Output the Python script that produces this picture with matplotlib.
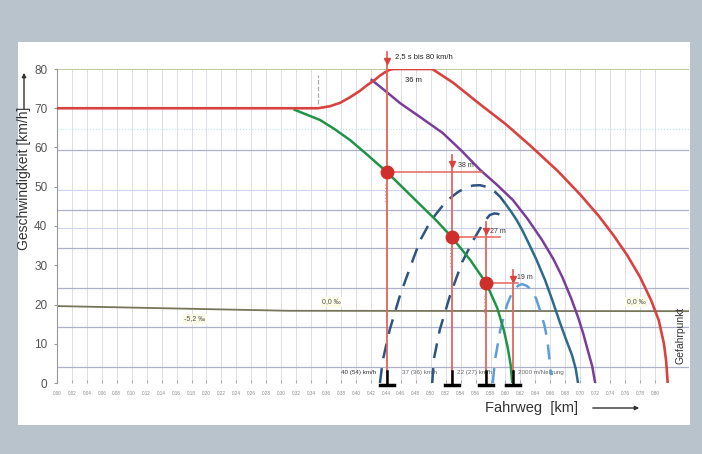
import numpy as np
import matplotlib
matplotlib.use('Agg')
import matplotlib.pyplot as plt
from matplotlib.patches import Rectangle, FancyArrowPatch

plt.rcParams['font.family'] = 'sans-serif'
plt.rcParams['font.sans-serif'] = ['Liberation Sans', 'DejaVu Sans']

# Fahrweg [km] / Geschwindigkeit [km/h]
red_s = [0.000, 0.349, 0.365, 0.379, 0.392, 0.405, 0.415, 0.425, 0.432, 0.439, 0.445, 0.450,
         0.502, 0.530, 0.566, 0.600, 0.633, 0.670, 0.700, 0.725, 0.745, 0.763, 0.780, 0.795,
         0.805, 0.812, 0.815, 0.817]
red_v = [70.0, 70.0, 70.5, 71.4, 72.8, 74.4, 75.9, 77.2, 78.3, 79.2, 79.8, 80.0,
         80.0, 76.5, 71.0, 66.0, 60.5, 54.0, 48.0, 42.5, 37.5, 32.5, 27.0, 21.0,
         16.0, 10.0, 5.5, 0.0]

purple_s = [0.421, 0.440, 0.459, 0.487, 0.516, 0.541, 0.566, 0.588, 0.610, 0.630, 0.649,
            0.664, 0.676, 0.688, 0.697, 0.704, 0.710, 0.716, 0.720]
purple_v = [77.2, 74.3, 71.3, 67.6, 63.7, 59.2, 54.3, 50.6, 46.6, 41.7, 36.4,
            31.6, 27.0, 21.5, 16.8, 12.6, 8.4, 4.3, 0.0]

blue_s = [0.599, 0.607, 0.615, 0.622, 0.629, 0.641, 0.653, 0.663, 0.673, 0.681, 0.689, 0.694, 0.697]
blue_v = [45.9, 43.8, 41.5, 39.1, 36.4, 31.6, 26.2, 20.9, 15.3, 11.1, 7.1, 3.6, 0.0]

green_s = [0.318, 0.335, 0.352, 0.372, 0.392, 0.416, 0.441, 0.463, 0.486, 0.507, 0.528,
           0.553, 0.574, 0.589, 0.598, 0.603, 0.607, 0.609]
green_v = [69.6, 68.3, 67.0, 64.6, 61.9, 58.0, 53.8, 49.7, 45.4, 41.5, 37.2,
           31.3, 25.5, 19.1, 13.3, 9.0, 4.5, 0.0]

arch1_s = [0.432, 0.436, 0.445, 0.459, 0.475, 0.486, 0.496, 0.506, 0.516, 0.526, 0.536,
           0.546, 0.556, 0.566, 0.576, 0.586, 0.593, 0.599]
arch1_v = [0.0, 5.9, 13.5, 22.4, 30.8, 36.4, 39.9, 42.8, 45.2, 47.1, 48.6,
           49.7, 50.3, 50.4, 49.9, 48.7, 47.4, 45.9]
arch2_s = [0.502, 0.504, 0.512, 0.526, 0.542, 0.557, 0.569, 0.575, 0.579, 0.585, 0.590, 0.595, 0.599]
arch2_v = [0.0, 5.9, 13.5, 22.4, 30.8, 36.4, 40.3, 41.9, 42.8, 43.2, 43.1, 42.3, 41.0]
arch3_s = [0.583, 0.586, 0.593, 0.602, 0.607, 0.611, 0.617, 0.622, 0.628, 0.635, 0.641,
           0.646, 0.652, 0.656, 0.661]
arch3_v = [0.0, 5.9, 13.5, 19.9, 22.2, 23.7, 24.8, 25.2, 24.8, 23.7, 21.5,
           18.6, 14.8, 11.0, 2.0]

# Punkte und Wege
dot_s = [0.4415, 0.5284, 0.5739]
dot_v = [53.8, 37.2, 25.5]
mark_s = [0.4415, 0.5284, 0.5739, 0.6100]
mark_top = [84.3, 58.1, 41.0, 28.8]
hline_end = [0.568, 0.593, 0.617]
dist_labels = ['38 m', '27 m', '19 m']

# Neigung
grad_s = [0.0, 0.31, 0.8455]
grad_v = [19.6, 18.4, 18.3]

speed_lines = [59.4, 44.1, 34.4, 24.2, 14.3, 4.1]
speed_lines_light = [49.2, 39.5]

x_ticks = [round(0.02 * i, 2) for i in range(41)]
y_ticks = [0, 10, 20, 30, 40, 50, 60, 70, 80]

red = '#d8433f'
red_soft = '#e2665e'
fig = plt.figure(figsize=(7.02, 4.54), dpi=100, facecolor='#b9c3cc')
fig.patches.append(Rectangle((18/702, 1-425/454), 672/702, 383/454,
                             transform=fig.transFigure, facecolor='white',
                             edgecolor='none', zorder=-5))
ax = fig.add_axes([57/702, 71/454, 632/702, 314/454])
ax.set_zorder(2)
ax.patch.set_alpha(0)
ax.set_xlim(0, 0.8455)
ax.set_ylim(0, 80)

for x in x_ticks:
    ax.axvline(x, color='#d8d8e0', lw=0.6, zorder=1)
for y in speed_lines:
    ax.axhline(y, color='#afb1ca', lw=0.9, zorder=1)
for y in speed_lines_light:
    ax.axhline(y, color='#ccd6ec', lw=0.8, zorder=1)
ax.axhline(64.7, color='#bfe3e8', lw=0.8, ls=':', zorder=1)
ax.axhline(80, color='#b7c59c', lw=1.3, zorder=2)

ax.plot(grad_s, grad_v, color='#76765a', lw=1.3, zorder=2)
tb = dict(boxstyle='square,pad=0.2', facecolor='#fbfbe6', edgecolor='none')
ax.text(0.355, 20.3, '0,0 ‰', fontsize=5, color='#555', bbox=tb, zorder=3)
ax.text(0.17, 16.0, '-5,2 ‰', fontsize=5, color='#555', bbox=tb, zorder=3)
ax.text(0.762, 20.3, '0,0 ‰', fontsize=5, color='#555', bbox=tb, zorder=3)

# Bremskurven
ax.plot(arch1_s, arch1_v, color='#2d557f', lw=1.8, dashes=(6, 4), zorder=4)
ax.plot(arch2_s, arch2_v, color='#2d557f', lw=1.8, dashes=(6, 4), zorder=4)
ax.plot(arch3_s, arch3_v, color='#5c9fd6', lw=1.8, dashes=(6, 4), zorder=4)
ax.plot(blue_s, blue_v, color='#2c6b8c', lw=1.8, zorder=4)
ax.plot(purple_s, purple_v, color='#7a3d99', lw=1.8, zorder=4)
ax.plot(green_s, green_v, color='#1f9447', lw=1.8, zorder=5)
ax.plot(red_s, red_v, color=red, lw=1.9, zorder=5)

ax.plot([0.349, 0.349], [71, 78.5], color='#aaaaaa', lw=0.9, ls='--', zorder=3)

# Markierungen
for s, top in zip(mark_s, mark_top):
    ax.plot([s, s], [0, top], color=red_soft, lw=1.3, zorder=6, clip_on=False)
    ax.plot(s, top - 2.2, marker='v', color=red, ms=4, zorder=6, clip_on=False)
    ax.plot([s, s], [-0.6, 3.0], color='black', lw=1.8, zorder=7, clip_on=False)
    ax.plot([s - 0.009, s + 0.009], [-0.6, -0.6], color='black', lw=2.5,
            zorder=7, clip_on=False)
for s, v, e in zip(dot_s, dot_v, hline_end):
    ax.plot([s, e], [v, v], color=red_soft, lw=1.1, zorder=6)
    ax.plot([s - 0.003, s - 0.003], [v - 3, v - 8], color='#e8a090', lw=0.9,
            ls=':', zorder=6)
    ax.plot(s, v, 'o', color='#cf2f2b', ms=9, zorder=8)
label_pos = [(0.536, 55.5), (0.579, 38.7), (0.615, 27.0)]
for (x, y), lab in zip(label_pos, dist_labels):
    ax.text(x, y, lab, fontsize=5, color='#333', va='center', zorder=9)
ax.text(0.466, 77.0, '36 m', fontsize=5.5, color='#222', va='center', zorder=9)
ax.text(0.452, 83.1, '2,5 s bis 80 km/h', fontsize=5.5, color='#222',
        va='center', clip_on=False, zorder=9)

ax.text(0.427, 2.8, '40 (54) km/h', fontsize=4.5, color='#333', ha='right', va='center')
ax.text(0.462, 2.8, '37 (36) km/h', fontsize=4.5, color='#666', va='center')
ax.text(0.535, 2.8, '22 (27) km/h', fontsize=4.5, color='#666', va='center')
ax.text(0.617, 2.8, '2000 m/Neigung', fontsize=4.5, color='#666', va='center')

# Achsen
for sp in ['top', 'right', 'bottom']:
    ax.spines[sp].set_visible(False)
ax.spines['left'].set_color('#999999')
ax.spines['left'].set_linewidth(0.8)
ax.set_yticks(y_ticks)
ax.set_yticklabels([str(v) for v in y_ticks], fontsize=8.5, color='#555')
ax.set_xticks(x_ticks)
ax.set_xticklabels(['%.2f' % v for v in x_ticks], fontsize=3.3, color='#888')
ax.tick_params(axis='y', length=2, color='#999', pad=5)
ax.tick_params(axis='x', length=2, direction='in', color='#aaa', pad=6)

fig.text(24/702, 1-178/454, 'Geschwindigkeit [km/h]', rotation=90, fontsize=10,
         color='#333', ha='center', va='center')
fig.add_artist(FancyArrowPatch(
    (24/702, 1-112/454), (24/702, 1-70/454), transform=fig.transFigure,
    arrowstyle='-|>', mutation_scale=6, color='#333', lw=1.0))
fig.text(485/702, 1-408/454, 'Fahrweg  [km]', fontsize=10.5, color='#333',
         ha='left', va='center')
fig.add_artist(FancyArrowPatch(
    (590/702, 1-408/454), (642/702, 1-408/454), transform=fig.transFigure,
    arrowstyle='-|>', mutation_scale=6, color='#333', lw=1.0))
fig.text(680/702, 1-335/454, 'Gefahrpunkt', rotation=90, fontsize=7.5,
         color='#333', ha='center', va='center')

fig.savefig('out.png', dpi=100, facecolor=fig.get_facecolor())
